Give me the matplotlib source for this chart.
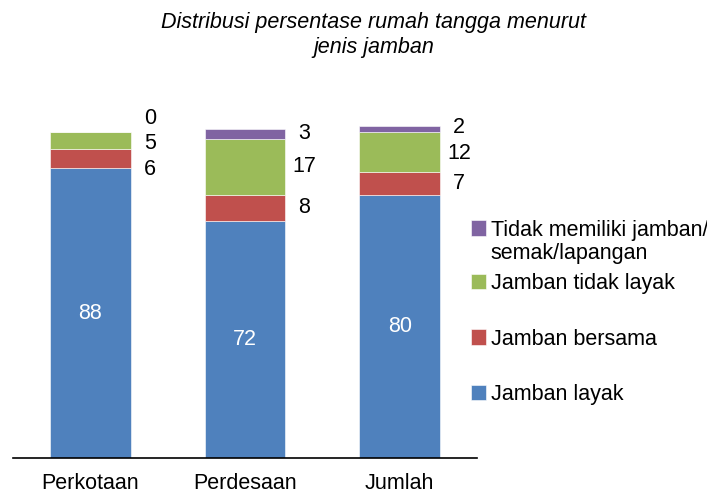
import numpy as np
import matplotlib
matplotlib.use("Agg")
from matplotlib import pyplot as plt

plt.rcParams['font.family'] = ['Liberation Sans', 'DejaVu Sans']

categories = ["Perkotaan", "Perdesaan", "Jumlah"]
series_names = ["Jamban layak", "Jamban bersama", "Jamban tidak layak",
                "Tidak memiliki jamban/\nsemak/lapangan"]
layak = [88, 72, 80]
bersama = [6, 8, 7]
tidak_layak = [5, 17, 12]
tidak_punya = [0, 3, 2]
colors = ["#4F81BD", "#C0504D", "#9BBB59", "#8064A2"]

FS = 15.5


def spread(centers, gap):
    # push label positions apart so they do not overlap
    groups = [[c] for c in centers]
    merged = True
    while merged:
        merged = False
        for i in range(len(groups) - 1):
            a, b = groups[i], groups[i + 1]
            ma = np.mean(a) + gap * (len(a) - 1) / 2
            mb = np.mean(b) - gap * (len(b) - 1) / 2
            if mb - ma < gap:
                groups[i] = a + b
                del groups[i + 1]
                merged = True
                break
    out = []
    for g in groups:
        m = np.mean(g)
        n = len(g)
        out += [m + gap * (k - (n - 1) / 2) for k in range(n)]
    return out


fig = plt.figure(figsize=(7.07, 4.94), dpi=100)
ax = fig.add_axes([13 / 707, 36 / 494, 464 / 707, 362 / 494])

x = np.arange(len(categories))
width = 0.52
data = [layak, bersama, tidak_layak, tidak_punya]
bottom = np.zeros(len(categories))
for vals, col, name in zip(data, colors, series_names):
    ax.bar(x, vals, width, bottom=bottom, color=col, label=name,
           edgecolor="white", linewidth=0.4)
    bottom = bottom + np.array(vals)

# value labels
for i in range(len(categories)):
    ax.text(x[i], layak[i] / 2, str(layak[i]), color="white", fontsize=FS,
            ha="center", va="center")
    base = layak[i]
    centers = []
    for vals in data[1:]:
        centers.append(base + vals[i] / 2)
        base += vals[i]
    ys = spread(centers, 7.8)
    for vals, y in zip(data[1:], ys):
        ax.text(x[i] + width / 2 + 0.125, y, str(vals[i]), fontsize=FS,
                ha="center", va="center")

ax.set_xlim(-0.5, 2.5)
ax.set_ylim(0, 110)
ax.set_xticks(x)
ax.set_xticklabels(categories, fontsize=FS)
ax.tick_params(axis="x", length=0, pad=11)
ax.set_yticks([])
for s in ["top", "right", "left"]:
    ax.spines[s].set_visible(False)
ax.spines["bottom"].set_linewidth(1.2)

handles, labels = ax.get_legend_handles_labels()
handles, labels = handles[::-1], labels[::-1]
leg_kw = dict(loc="center left", frameon=False, fontsize=FS,
              handlelength=0.7, handleheight=0.7, handletextpad=0.22,
              borderaxespad=0, borderpad=0)
# first entry: handle sits on the first line, second line set below
first_line, second_line = labels[0].split("\n")
leg1 = fig.legend(handles[:1], [first_line],
                  bbox_to_anchor=(471 / 707, 1 - 230 / 494), **leg_kw)
fig.legend(handles[1:], labels[1:], labelspacing=1.6,
           bbox_to_anchor=(471 / 707, 1 - 339 / 494), **leg_kw)
fig.canvas.draw()
bb = leg1.get_texts()[0].get_window_extent()
fig.text(bb.x0 / fig.bbox.width, 1 - 253 / 494, second_line,
         fontsize=FS, ha="left", va="center")

fig.text(374 / 707, 1 - 35 / 494,
         "Distribusi persentase rumah tangga menurut\njenis jamban",
         ha="center", va="center", fontsize=FS, style="italic",
         linespacing=1.25)

fig.savefig("out.png", dpi=100)
